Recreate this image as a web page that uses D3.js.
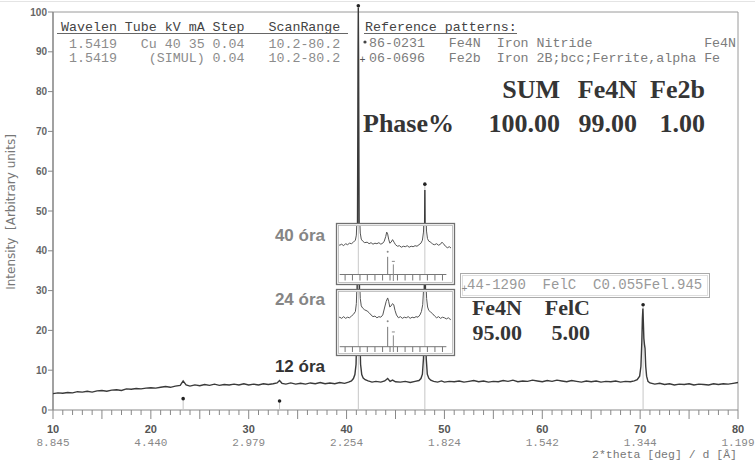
<!DOCTYPE html>
<html>
<head>
<meta charset="utf-8">
<script src="https://cdn.jsdelivr.net/npm/d3@7"></script>
<style>
  body { margin: 0; background: #fff; }
  svg text { white-space: pre; }
</style>
</head>
<body>
<svg id="chart" width="755" height="461"></svg>
<script>
// 12 h scan, [2theta, intensity]
const pattern12h = [
  [10.0,4.1],[10.5,4.3],[11.0,4.2],[11.5,4.4],[12.0,4.3],[12.5,4.6],[13.0,4.5],[13.5,4.7],[14.0,4.5],[14.5,4.8],
  [15.0,4.9],[15.5,4.7],[16.0,5.0],[16.5,5.1],[17.0,4.9],[17.5,5.3],[18.0,5.2],[18.5,5.4],[19.0,5.3],[19.5,5.5],
  [20.0,5.6],[20.5,5.5],[21.0,5.7],[21.5,5.9],[22.0,5.7],[22.5,6.0],[23.0,6.2],[23.3,7.3],[23.6,6.3],[24.0,6.0],
  [24.5,6.3],[25.0,6.1],[25.5,6.4],[26.0,6.2],[26.5,6.5],[27.0,6.2],[27.5,6.4],[28.0,6.3],[28.5,6.5],[29.0,6.3],
  [29.5,6.6],[30.0,6.3],[30.5,6.5],[31.0,6.3],[31.5,6.6],[32.0,6.4],[32.5,6.6],[32.9,6.8],[33.15,7.4],[33.4,6.7],
  [33.8,6.5],[34.3,6.8],[34.8,6.5],[35.3,6.7],[35.8,6.5],[36.3,6.8],[36.8,6.6],[37.3,6.9],[37.8,6.6],[38.3,6.8],
  [38.8,6.6],[39.3,6.9],[39.8,6.7],[40.2,7.0],[40.5,7.3],[40.7,7.9],[40.85,8.9],[40.97,11.5],[41.06,21],[41.12,48],
  [41.17,88],[41.2,101],[41.23,88],[41.28,48],[41.34,21],[41.43,11.5],[41.55,8.9],[41.7,8.0],[41.9,7.6],[42.2,7.3],
  [42.6,7.0],[43.0,7.2],[43.5,7.0],[43.9,7.3],[44.2,7.9],[44.45,7.2],[44.7,7.5],[45.0,7.1],[45.5,7.0],[46.0,7.2],
  [46.5,6.9],[47.0,7.2],[47.4,7.4],[47.6,7.9],[47.75,9.0],[47.86,13],[47.94,30],[48.0,55.3],[48.06,30],[48.14,13],
  [48.25,9.0],[48.4,8.0],[48.6,7.5],[48.9,7.2],[49.3,7.0],[49.7,7.3],[50.0,7.0],[50.5,7.2],[51.0,7.1],[51.5,7.3],
  [52.0,7.0],[52.5,7.2],[53.0,7.4],[53.5,7.1],[54.0,7.3],[54.5,7.0],[55.0,7.2],[55.5,7.1],[56.0,7.4],[56.5,7.2],
  [57.0,7.5],[57.5,7.1],[58.0,7.3],[58.5,7.2],[59.0,7.5],[59.5,7.3],[60.0,7.1],[60.5,7.4],[61.0,7.2],[61.5,7.5],
  [62.0,7.3],[62.5,7.1],[63.0,7.4],[63.5,7.2],[64.0,7.0],[64.5,7.3],[65.0,7.1],[65.5,7.3],[66.0,7.0],[66.5,7.2],
  [67.0,7.1],[67.5,7.3],[68.0,7.0],[68.5,7.2],[69.0,7.1],[69.4,7.3],[69.7,7.6],[69.95,8.5],[70.08,11],[70.17,17],
  [70.23,23],[70.28,25.5],[70.33,22],[70.38,18],[70.44,16.5],[70.5,15.5],[70.57,11],[70.66,8.5],[70.8,7.2],[71.0,6.8],
  [71.5,6.5],[72.0,6.7],[72.5,6.4],[73.0,6.6],[73.5,6.3],[74.0,6.5],[74.5,6.4],[75.0,6.6],[75.5,6.3],[76.0,6.5],
  [76.5,6.4],[77.0,6.3],[77.5,6.6],[78.0,6.4],[78.5,6.6],[79.0,6.5],[79.5,6.7],[80.0,6.9]
];

// inset scans, intensity in inset-relative units (0 = inset axis, 100 = inset top)
const pattern40h = [
  [38.9,59],[39.1,61],[39.3,58],[39.5,60],[39.7,57],[39.9,61],[40.1,59],[40.3,62],[40.5,61],[40.7,64],
  [40.9,68],[41.0,78],[41.08,120],[41.15,190],[41.2,230],[41.25,190],[41.32,120],[41.4,82],[41.5,70],[41.65,66],
  [41.85,63],[42.1,64],[42.3,61],[42.5,63],[42.7,60],[42.9,62],[43.1,61],[43.3,63],[43.5,60],[43.7,62],
  [43.85,66],[44.0,75],[44.1,84],[44.2,80],[44.3,70],[44.42,62],[44.55,64],[44.7,69],[44.85,64],[45.0,59],
  [45.2,56],[45.4,57],[45.6,54],[45.8,56],[46.0,55],[46.2,57],[46.4,54],[46.6,56],[46.8,55],[47.0,57],
  [47.2,56],[47.4,59],[47.6,62],[47.75,68],[47.86,84],[47.93,130],[47.97,190],[48.0,230],[48.04,190],[48.1,130],
  [48.17,86],[48.27,71],[48.4,66],[48.6,64],[48.8,60],[49.0,59],[49.2,61],[49.4,58],[49.6,60],[49.75,64],
  [49.9,61],[50.1,56],[50.3,53],[50.5,55],[50.7,52],[50.9,54]
];
const pattern24h = [
  [38.9,51],[39.1,49],[39.3,52],[39.5,50],[39.7,53],[39.9,50],[40.1,52],[40.3,51],[40.5,54],[40.7,57],
  [40.9,62],[41.0,76],[41.08,120],[41.15,190],[41.2,230],[41.25,190],[41.32,125],[41.4,85],[41.5,72],[41.65,68],
  [41.85,65],[42.1,63],[42.3,60],[42.5,56],[42.7,53],[42.9,54],[43.1,51],[43.3,53],[43.5,52],[43.7,56],
  [43.9,70],[44.05,80],[44.2,86],[44.3,80],[44.42,70],[44.55,72],[44.7,76],[44.82,74],[44.95,64],[45.1,56],
  [45.3,51],[45.5,53],[45.7,50],[45.9,52],[46.1,51],[46.3,53],[46.5,50],[46.7,52],[46.9,51],[47.1,53],
  [47.3,52],[47.5,56],[47.65,62],[47.78,74],[47.88,105],[47.94,170],[48.0,230],[48.05,170],[48.11,115],[48.18,85],
  [48.28,70],[48.4,64],[48.6,61],[48.8,58],[49.0,54],[49.2,51],[49.4,53],[49.6,50],[49.8,52],[50.0,51],
  [50.2,49],[50.4,51],[50.6,48],[50.9,50]
];

// Fe4N reference pattern sticks [2theta, intensity]
const fe4nRefs = [[23.3,2.6],[33.15,2.0],[41.2,101.3],[48.0,56.5],[70.3,26.2]];
// sticks shown inside the insets [2theta, height]
const insetDotRef = [44.2, 35];
const insetPlusRef = [44.78, 20];
const insetLines = [41.2, 48.0];
const insetTicks = [39.85,40.6,41.37,42.12,42.9,43.68,44.44,45.2,45.98,46.76,47.5,48.26,49.03,49.8];

const xTicks = [10,20,30,40,50,60,70,80];
const dLabels = ["8.845","4.440","2.979","2.254","1.824","1.542","1.344","1.199"];
const yTicks = [0,10,20,30,40,50,60,70,80,90,100];

const scanHeader = "Wavelen Tube kV mA Step   ScanRange";
const scanRows = [" 1.5419   Cu 40 35 0.04   10.2-80.2",
                  " 1.5419    (SIMUL) 0.04   10.2-80.2"];
const refTitle = "Reference patterns:";
const refRows = ["86-0231   Fe4N  Iron Nitride              Fe4N",
                 "06-0696   Fe2b  Iron 2B;bcc;Ferrite,alpha Fe"];
const extraRef = "44-1290  FelC  C0.055Fel.945";

const phaseHead = ["SUM","Fe4N","Fe2b"];
const phaseVals = ["100.00","99.00","1.00"];
const phase2Head = ["Fe4N","FelC"];
const phase2Vals = ["95.00","5.00"];
const scanLabels = ["40 óra","24 óra","12 óra"];

const svg = d3.select("#chart");
const x = d3.scaleLinear().domain([10,80]).range([53,738]);
const y = d3.scaleLinear().domain([0,100]).range([410,12]);
const mono = "'Liberation Mono', 'Courier New', monospace";
const serif = "'Liberation Serif', 'Times New Roman', serif";
const sans = "'Liberation Sans', Arial, sans-serif";

svg.append("line").attr("x1",0).attr("x2",755).attr("y1",1.5).attr("y2",1.5)
  .attr("stroke","#e4e4e4");

// frame
svg.append("path")
  .attr("d", `M${x(10)},${y(100)}H${x(80)}V${y(0)}`)
  .attr("fill","none").attr("stroke","#9a9a9a").attr("stroke-width",1);
svg.append("line").attr("x1",x(10)).attr("x2",x(10)).attr("y1",y(100)).attr("y2",y(0))
  .attr("stroke","#8a8a8a").attr("stroke-width",1.6);
svg.append("line").attr("x1",x(10)).attr("x2",x(80)).attr("y1",y(0)).attr("y2",y(0))
  .attr("stroke","#8a8a8a").attr("stroke-width",1.2);

// x ticks
const minor = d3.range(10, 81, 1);
svg.append("g").selectAll("line").data(minor).join("line")
  .attr("x1", d => x(d)).attr("x2", d => x(d))
  .attr("y1", y(0)).attr("y2", d => y(0) + (d % 5 === 0 ? 9 : 5))
  .attr("stroke","#888").attr("stroke-width",1);
svg.append("g").selectAll("text").data(xTicks).join("text")
  .attr("x", d => x(d)).attr("y", 433)
  .attr("text-anchor","middle").attr("font-family",sans).attr("font-weight","bold")
  .attr("font-size",11).attr("fill","#555").text(d => d);
svg.append("g").selectAll("text").data(dLabels).join("text")
  .attr("x", (d,i) => x(xTicks[i])).attr("y", 446)
  .attr("text-anchor","middle").attr("font-family",mono)
  .attr("font-size",11).attr("fill","#888").text(d => d);
svg.append("text").attr("x",737).attr("y",458).attr("text-anchor","end")
  .attr("font-family",mono).attr("font-size",11.5).attr("fill","#777")
  .text("2*theta [deg] / d [Å]");

// y ticks
svg.append("g").selectAll("line").data(yTicks).join("line")
  .attr("x1", x(10) - 5).attr("x2", x(10)).attr("y1", d => y(d)).attr("y2", d => y(d))
  .attr("stroke","#888");
svg.append("g").selectAll("text").data(yTicks).join("text")
  .attr("x", x(10) - 6).attr("y", d => y(d)).attr("dy","0.35em")
  .attr("text-anchor","end").attr("font-family",sans).attr("font-weight","bold")
  .attr("font-size",10).attr("fill","#666").text(d => d);
svg.append("text").attr("transform","translate(15,212) rotate(-90)")
  .attr("text-anchor","middle").attr("font-family","'DejaVu Sans', sans-serif")
  .attr("font-size",12).attr("fill","#777").text("Intensity  [Arbitrary units]");

// reference sticks
svg.append("g").selectAll("line").data(fe4nRefs).join("line")
  .attr("x1", d => x(d[0])).attr("x2", d => x(d[0]))
  .attr("y1", y(0)).attr("y2", d => y(d[1]))
  .attr("stroke","#c6c6c6").attr("stroke-width",1);

// main scan
const line = d3.line().x(d => x(d[0])).y(d => y(d[1]));
svg.append("path").datum(pattern12h).attr("d", line)
  .attr("fill","none").attr("stroke","#3a3a3a").attr("stroke-width",1.4);

svg.append("g").selectAll("circle").data(fe4nRefs).join("circle")
  .attr("cx", d => x(d[0])).attr("cy", d => y(d[1]) - 1).attr("r",1.8).attr("fill","#222");

// header text blocks
const header = svg.append("g").attr("font-family",mono).attr("font-size",13.3);
header.append("text").attr("x",61).attr("y",30.5).attr("fill","#444").text(scanHeader);
header.append("line").attr("x1",57).attr("x2",348).attr("y1",33.5).attr("y2",33.5).attr("stroke","#666");
header.selectAll(".srow").data(scanRows).join("text").attr("class","srow")
  .attr("x",61).attr("y",(d,i) => 47.5 + i*14.5).attr("fill","#8c8c8c").text(d => d);

header.append("text").attr("x",365).attr("y",30.5).attr("fill","#444").text(refTitle);
header.append("line").attr("x1",364).attr("x2",517).attr("y1",33.5).attr("y2",33.5).attr("stroke","#666");
header.selectAll(".rrow").data(refRows).join("text").attr("class","rrow")
  .attr("x",369).attr("y",(d,i) => 46.5 + i*15).attr("fill","#7c7c7c").text(d => d);
header.append("circle").attr("cx",365).attr("cy",42).attr("r",1.6).attr("fill","#444");
header.append("text").attr("x",359.5).attr("y",63).attr("font-size",10).attr("fill","#555").text("+");

// phase table 1
const big = svg.append("g").attr("font-family",serif).attr("font-weight","bold")
  .attr("font-size",26).attr("fill","#353535").attr("text-anchor","end");
const colEnds = [560,637,705];
big.selectAll(".ph").data(phaseHead).join("text").attr("class","ph")
  .attr("x",(d,i) => colEnds[i]).attr("y",98).text(d => d);
big.selectAll(".pv").data(phaseVals).join("text").attr("class","pv")
  .attr("x",(d,i) => colEnds[i]).attr("y",132).text(d => d);
big.append("text").attr("x",363).attr("y",132).attr("text-anchor","start").text("Phase%");

// extra reference box
svg.append("rect").attr("x",460.5).attr("y",273.5).attr("width",249).attr("height",24)
  .attr("fill","#fff").attr("stroke","#aaa");
svg.append("rect").attr("x",462.5).attr("y",275.5).attr("width",245).attr("height",20)
  .attr("fill","none").attr("stroke","#ddd");
svg.append("text").attr("x",467).attr("y",289).attr("font-family",mono).attr("font-size",14)
  .attr("fill","#999").text(extraRef);
svg.append("text").attr("x",461.5).attr("y",292).attr("font-family",mono).attr("font-size",10)
  .attr("fill","#888").text("+");

// phase table 2
const mid = svg.append("g").attr("font-family",serif).attr("font-weight","bold")
  .attr("font-size",22).attr("fill","#353535").attr("text-anchor","end");
const col2Ends = [522,590];
mid.selectAll(".h2").data(phase2Head).join("text").attr("class","h2")
  .attr("x",(d,i) => col2Ends[i]).attr("y",315).text(d => d);
mid.selectAll(".v2").data(phase2Vals).join("text").attr("class","v2")
  .attr("x",(d,i) => col2Ends[i]).attr("y",340).text(d => d);

// insets
const insets = [
  {data: pattern40h, top: 223, bottom: 284, axisY: 274.5},
  {data: pattern24h, top: 289, bottom: 355, axisY: 346.7}
];
insets.forEach((ins, k) => {
  const g = svg.append("g");
  const left = 336, right = 454;
  const iy = d3.scaleLinear().domain([0,100]).range([ins.axisY, ins.top + 1]);
  g.append("rect").attr("x",left+0.5).attr("y",ins.top+0.5).attr("width",right-left).attr("height",ins.bottom-ins.top)
    .attr("fill","#fff").attr("stroke","#707070").attr("stroke-width",1.3);
  g.append("rect").attr("x",left+2.5).attr("y",ins.top+2.5).attr("width",right-left-4).attr("height",ins.bottom-ins.top-4)
    .attr("fill","none").attr("stroke","#b5b5b5").attr("stroke-width",0.8);
  g.append("clipPath").attr("id","clip"+k).append("rect")
    .attr("x",left+3).attr("y",ins.top+3).attr("width",right-left-6).attr("height",ins.bottom-ins.top-6);
  const inner = g.append("g").attr("clip-path",`url(#clip${k})`);
  inner.selectAll(".vl").data(insetLines).join("line").attr("class","vl")
    .attr("x1",d => x(d)).attr("x2",d => x(d)).attr("y1",ins.top).attr("y2",ins.axisY)
    .attr("stroke","#c8c8c8");
  inner.append("line").attr("x1",x(39.3)).attr("x2",x(50.2)).attr("y1",ins.axisY).attr("y2",ins.axisY)
    .attr("stroke","#777");
  inner.selectAll(".tk").data(insetTicks).join("line").attr("class","tk")
    .attr("x1",d => x(d)).attr("x2",d => x(d)).attr("y1",ins.axisY).attr("y2",ins.axisY + 6)
    .attr("stroke","#777");
  inner.append("line").attr("x1",x(insetDotRef[0])).attr("x2",x(insetDotRef[0]))
    .attr("y1",ins.axisY).attr("y2",iy(insetDotRef[1])).attr("stroke","#777");
  inner.append("circle").attr("cx",x(insetDotRef[0])).attr("cy",iy(insetDotRef[1] + 10)).attr("r",1)
    .attr("fill","#888");
  inner.append("line").attr("x1",x(insetPlusRef[0])).attr("x2",x(insetPlusRef[0]))
    .attr("y1",ins.axisY + 7).attr("y2",iy(insetPlusRef[1])).attr("stroke","#888");
  inner.append("line").attr("x1",x(insetPlusRef[0]) - 1.5).attr("x2",x(insetPlusRef[0]) + 1.5)
    .attr("y1",iy(insetPlusRef[1] + 6)).attr("y2",iy(insetPlusRef[1] + 6)).attr("stroke","#888");
  const iline = d3.line().x(d => x(d[0])).y(d => iy(d[1]));
  inner.append("path").datum(ins.data).attr("d", iline)
    .attr("fill","none").attr("stroke","#555").attr("stroke-width",1);
});

// scan time labels
const labelY = [241, 305, 372];
const labelFill = ["#858585","#858585","#333"];
svg.append("g").selectAll("text").data(scanLabels).join("text")
  .attr("x",325).attr("y",(d,i) => labelY[i]).attr("text-anchor","end")
  .attr("font-family",sans).attr("font-weight","bold").attr("font-size",17)
  .attr("fill",(d,i) => labelFill[i]).text(d => d);
</script>
</body>
</html>
